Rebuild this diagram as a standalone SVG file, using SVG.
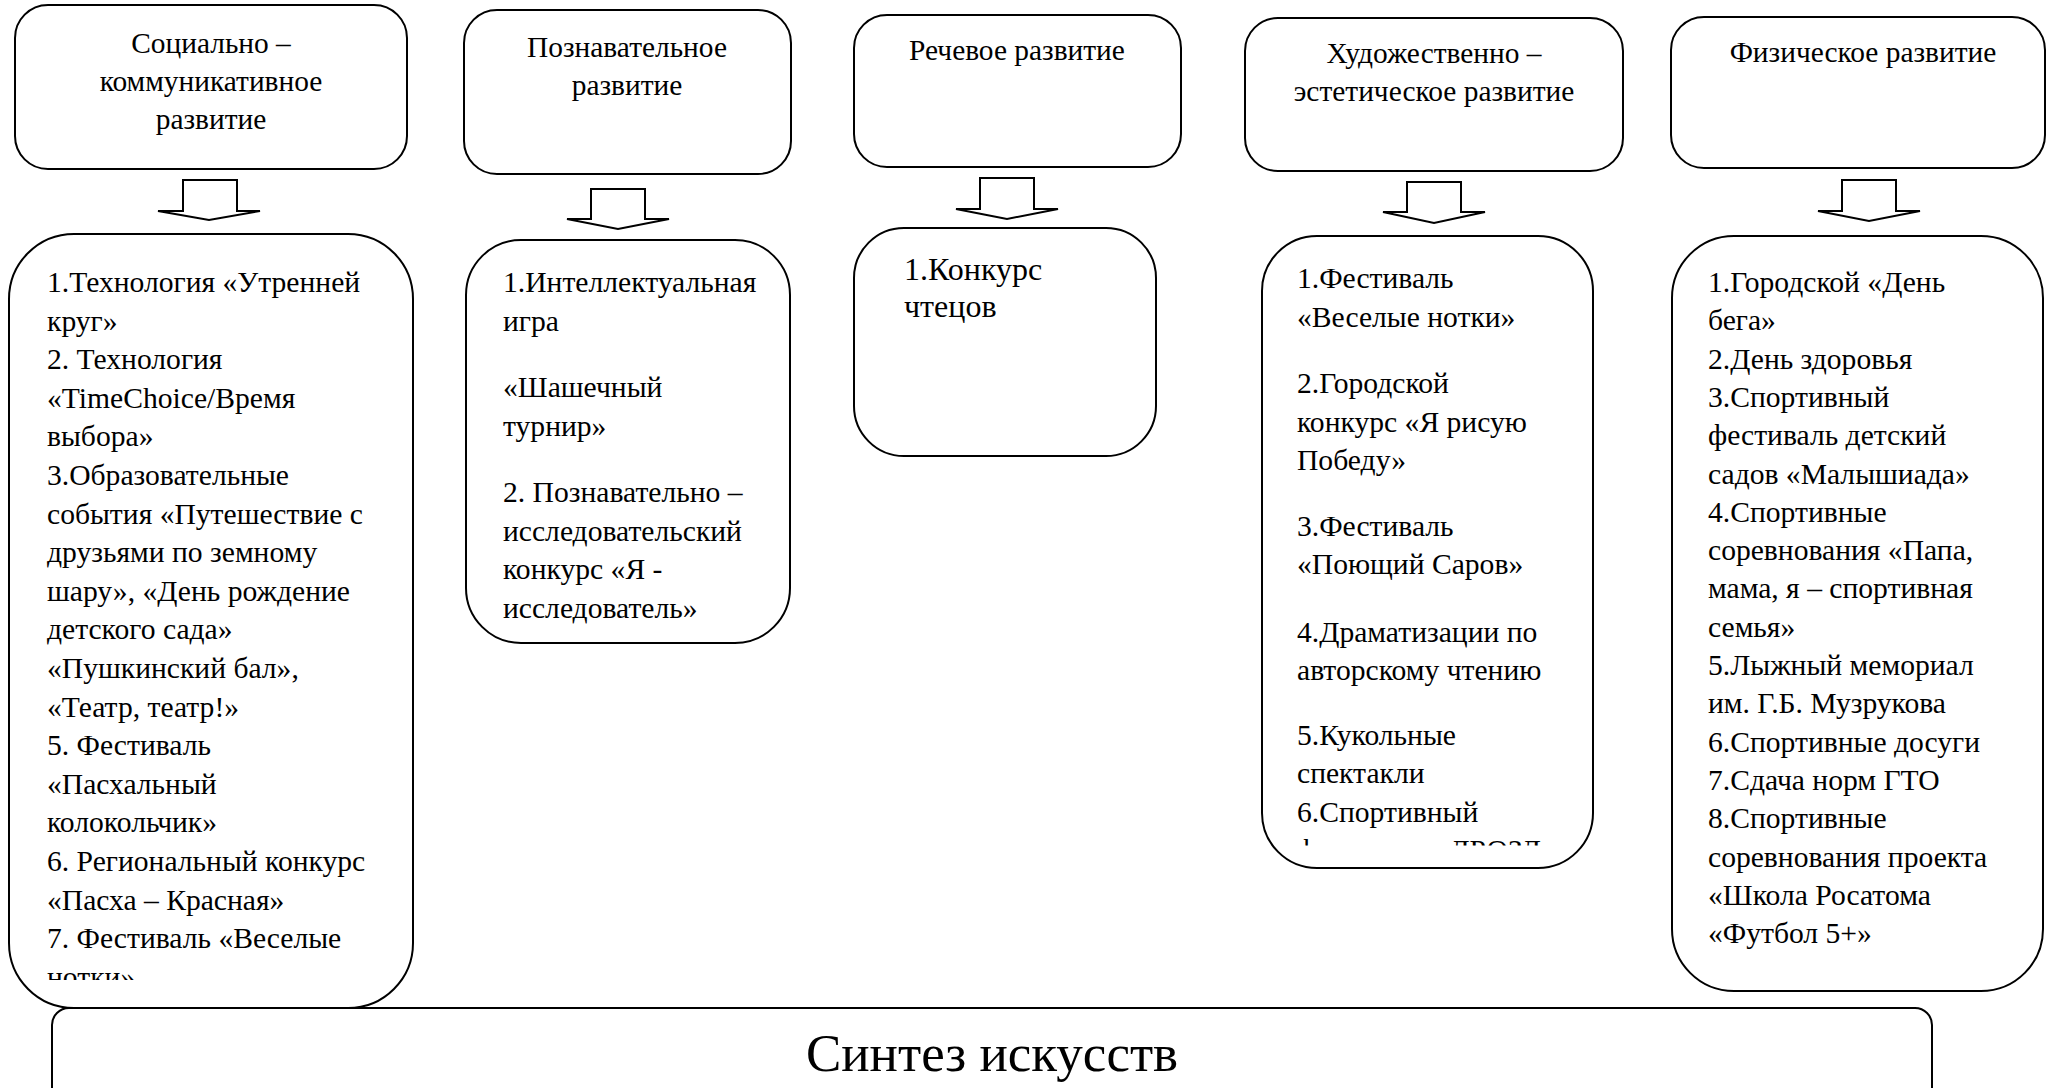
<svg xmlns="http://www.w3.org/2000/svg" width="2048" height="1088" viewBox="0 0 2048 1088" font-family="'Liberation Serif', 'Times New Roman', serif">
<style>
.box{fill:#fff;stroke:#000;stroke-width:2}
.arr{fill:#fff;stroke:#000;stroke-width:2;stroke-linejoin:miter}
.t{font-family:'Liberation Serif','Times New Roman',serif;fill:#000}
.h{font-size:29.4px;text-anchor:middle}
.b{font-size:29.6px}
.big{font-size:53px;text-anchor:middle}
</style>
<defs>
<clipPath id="clipL1"><rect x="0" y="230" width="430" height="750"/></clipPath>
<clipPath id="clipL4"><rect x="1250" y="230" width="360" height="615.5"/></clipPath>
</defs>
<rect width="2048" height="1088" fill="#fff"/>

<g id="head-social">
<rect class="box" x="15" y="5" width="392" height="164" rx="33"/>
<text class="t h" font-family="Liberation Serif"><tspan x="211" y="53">Социально –</tspan><tspan x="211" y="91">коммуникативное</tspan><tspan x="211" y="129">развитие</tspan></text>
</g>
<g id="head-cognitive">
<rect class="box" x="464" y="10" width="327" height="164" rx="33"/>
<text class="t h" font-family="Liberation Serif"><tspan x="627" y="57">Познавательное</tspan><tspan x="627" y="95">развитие</tspan></text>
</g>
<g id="head-speech">
<rect class="box" x="854" y="15" width="327" height="152" rx="33"/>
<text class="t h" font-family="Liberation Serif" x="1017" y="60">Речевое развитие</text>
</g>
<g id="head-art">
<rect class="box" x="1245" y="18" width="378" height="153" rx="33"/>
<text class="t h" font-family="Liberation Serif"><tspan x="1434" y="63">Художественно –</tspan><tspan x="1434" y="101">эстетическое развитие</tspan></text>
</g>
<g id="head-physical">
<rect class="box" x="1671" y="17" width="374" height="151" rx="33"/>
<text class="t h" font-family="Liberation Serif" x="1863" y="62">Физическое развитие</text>
</g>

<g id="connectors">
<path class="arr" d="M183,180 H237 V211 H260 L209,220 L158,211 H183 Z"/>
<path class="arr" d="M591,189 H645 V219 H669 L618,229 L567,219 H591 Z"/>
<path class="arr" d="M980,178 H1034 V209 H1058 L1007,219 L956,209 H980 Z"/>
<path class="arr" d="M1407,182 H1461 V212 H1485 L1434,223 L1383,212 H1407 Z"/>
<path class="arr" d="M1842,180 H1896 V211 H1920 L1869,221 L1818,211 H1842 Z"/>
</g>

<g id="list-social">
<rect class="box" x="9" y="234" width="404" height="774" rx="65"/>
<text class="t b" font-family="Liberation Serif" clip-path="url(#clipL1)">
<tspan x="47" y="292">1.Технология «Утренней</tspan>
<tspan x="47" y="330.6">круг»</tspan>
<tspan x="47" y="369.2">2. Технология</tspan>
<tspan x="47" y="407.8">«TimeChoice/Время</tspan>
<tspan x="47" y="446.4">выбора»</tspan>
<tspan x="47" y="485">3.Образовательные</tspan>
<tspan x="47" y="523.6">события «Путешествие с</tspan>
<tspan x="47" y="562.2">друзьями по земному</tspan>
<tspan x="47" y="600.8">шару», «День рождение</tspan>
<tspan x="47" y="639.4">детского сада»</tspan>
<tspan x="47" y="678">«Пушкинский бал»,</tspan>
<tspan x="47" y="716.6">«Театр, театр!»</tspan>
<tspan x="47" y="755.2">5. Фестиваль</tspan>
<tspan x="47" y="793.8">«Пасхальный</tspan>
<tspan x="47" y="832.4">колокольчик»</tspan>
<tspan x="47" y="871">6. Региональный конкурс</tspan>
<tspan x="47" y="909.6">«Пасха – Красная»</tspan>
<tspan x="47" y="948.2">7. Фестиваль «Веселые</tspan>
<tspan x="47" y="986.8">нотки»</tspan>
</text>
</g>

<g id="list-cognitive">
<rect class="box" x="466" y="240" width="324" height="403" rx="55"/>
<text class="t b" font-family="Liberation Serif">
<tspan x="503" y="292">1.Интеллектуальная</tspan>
<tspan x="503" y="331">игра</tspan>
<tspan x="503" y="397">«Шашечный</tspan>
<tspan x="503" y="436">турнир»</tspan>
<tspan x="503" y="502">2. Познавательно –</tspan>
<tspan x="503" y="541">исследовательский</tspan>
<tspan x="503" y="579">конкурс «Я -</tspan>
<tspan x="503" y="618">исследователь»</tspan>
</text>
</g>

<g id="list-speech">
<rect class="box" x="854" y="228" width="302" height="228" rx="50"/>
<text class="t b" font-family="Liberation Serif" style="font-size:32px">
<tspan x="904" y="280">1.Конкурс</tspan>
<tspan x="904" y="317">чтецов</tspan>
</text>
</g>

<g id="list-art">
<rect class="box" x="1262" y="236" width="331" height="632" rx="55"/>
<text class="t b" font-family="Liberation Serif" clip-path="url(#clipL4)">
<tspan x="1297" y="288">1.Фестиваль</tspan>
<tspan x="1297" y="327">«Веселые нотки»</tspan>
<tspan x="1297" y="393">2.Городской</tspan>
<tspan x="1297" y="432">конкурс «Я рисую</tspan>
<tspan x="1297" y="470">Победу»</tspan>
<tspan x="1297" y="536">3.Фестиваль</tspan>
<tspan x="1297" y="574">«Поющий Саров»</tspan>
<tspan x="1297" y="642">4.Драматизации по</tspan>
<tspan x="1297" y="680">авторскому чтению</tspan>
<tspan x="1297" y="745">5.Кукольные</tspan>
<tspan x="1297" y="783">спектакли</tspan>
<tspan x="1297" y="822">6.Спортивный</tspan>
<tspan x="1297" y="860">фестиваль «ДРОЗД»</tspan>
</text>
</g>

<g id="list-physical">
<rect class="box" x="1672" y="236" width="371" height="755" rx="62"/>
<text class="t b" font-family="Liberation Serif">
<tspan x="1708" y="292">1.Городской «День</tspan>
<tspan x="1708" y="330.3">бега»</tspan>
<tspan x="1708" y="368.6">2.День здоровья</tspan>
<tspan x="1708" y="406.9">3.Спортивный</tspan>
<tspan x="1708" y="445.2">фестиваль детский</tspan>
<tspan x="1708" y="483.5">садов «Малышиада»</tspan>
<tspan x="1708" y="521.8">4.Спортивные</tspan>
<tspan x="1708" y="560.1">соревнования «Папа,</tspan>
<tspan x="1708" y="598.4">мама, я – спортивная</tspan>
<tspan x="1708" y="636.7">семья»</tspan>
<tspan x="1708" y="675">5.Лыжный мемориал</tspan>
<tspan x="1708" y="713.3">им. Г.Б. Музрукова</tspan>
<tspan x="1708" y="751.6">6.Спортивные досуги</tspan>
<tspan x="1708" y="789.9">7.Сдача норм ГТО</tspan>
<tspan x="1708" y="828.2">8.Спортивные</tspan>
<tspan x="1708" y="866.5">соревнования проекта</tspan>
<tspan x="1708" y="904.8">«Школа Росатома</tspan>
<tspan x="1708" y="943.1">«Футбол 5+»</tspan>
</text>
</g>

<g id="synthesis">
<rect class="box" x="52" y="1008" width="1880" height="110" rx="17"/>
<text class="t big" font-family="Liberation Serif" x="992" y="1071">Синтез искусств</text>
</g>
</svg>
